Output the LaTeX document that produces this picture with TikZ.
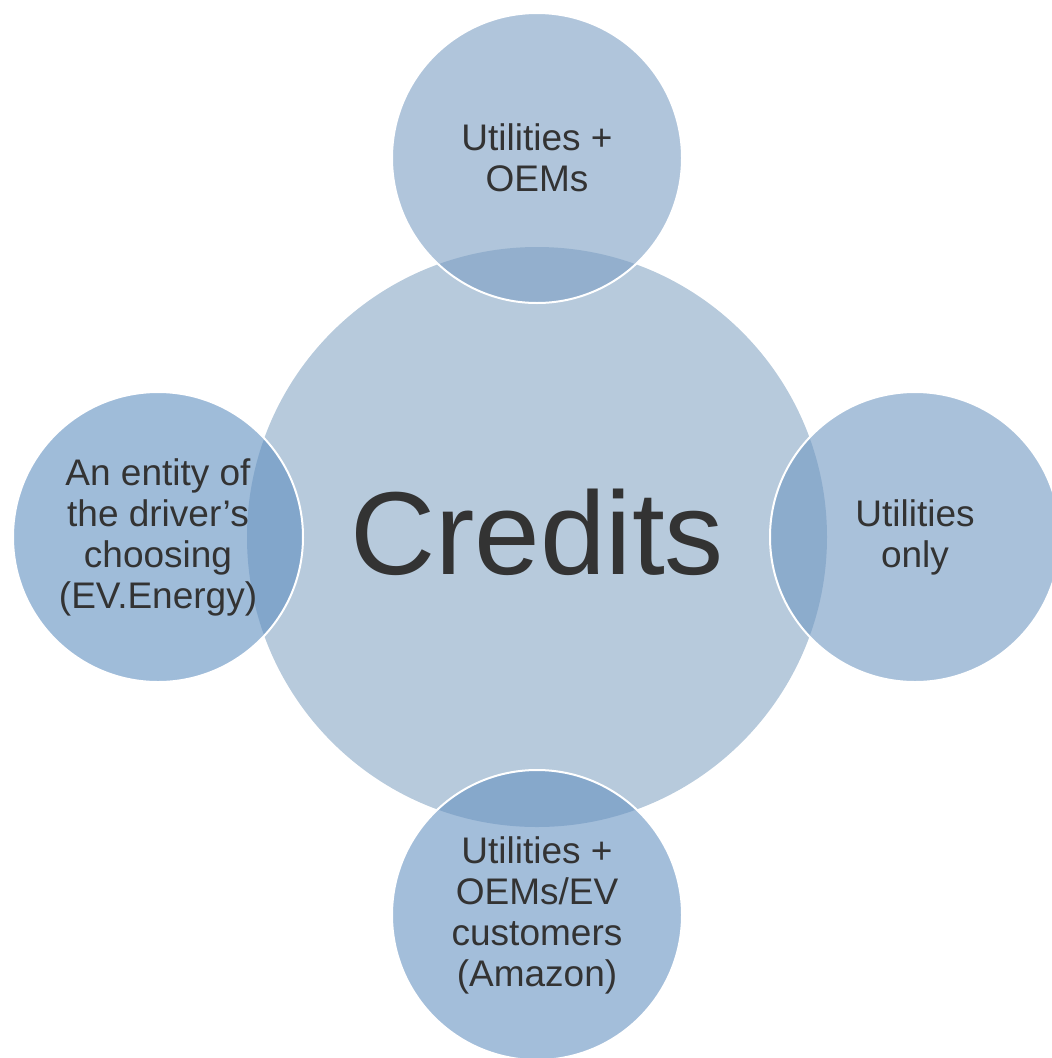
\documentclass[tikz,border=0pt]{standalone}
\usepackage{fontspec}
\setmainfont{Liberation Sans}
\definecolor{maincol}{RGB}{183,202,220}
\definecolor{topcol}{RGB}{123,158,195}
\definecolor{rightcol}{RGB}{112,152,194}
\definecolor{botcol}{RGB}{102,146,193}
\definecolor{leftcol}{RGB}{95,143,192}
\definecolor{txt}{RGB}{51,51,51}
\tikzset{
  sat/.style={circle, minimum size=290pt, inner sep=0pt, draw=white, line width=2pt,
    fill opacity=0.6, text opacity=1, text=txt, align=center,
    font=\fontsize{37}{41}\selectfont},
  hub/.style={circle, minimum size=580pt, inner sep=0pt, fill=maincol, text=txt,
    font=\fontsize{118}{130}\selectfont}
}
\begin{document}
\begin{tikzpicture}[x=1pt,y=-1pt]
\useasboundingbox (0,0) rectangle (1052,1058);
\clip (0,0) rectangle (1052,1058);
\node[hub] (credits) at (537,537) {};
\node[sat, fill=topcol] (top) at (537,158) {Utilities +\\OEMs};
\node[sat, fill=rightcol] (right) at (915,537) {Utilities\\only};
\node[sat, fill=botcol] (bottom) at (537,915) {Utilities +\\OEMs/EV\\customers\\(Amazon)};
\node[sat, fill=leftcol] (left) at (158,537) {An entity of\\the driver’s\\choosing\\(EV.Energy)};
\node[text=txt, font=\fontsize{118}{130}\selectfont] (label) at (537,532) {Credits};
\end{tikzpicture}
\end{document}
